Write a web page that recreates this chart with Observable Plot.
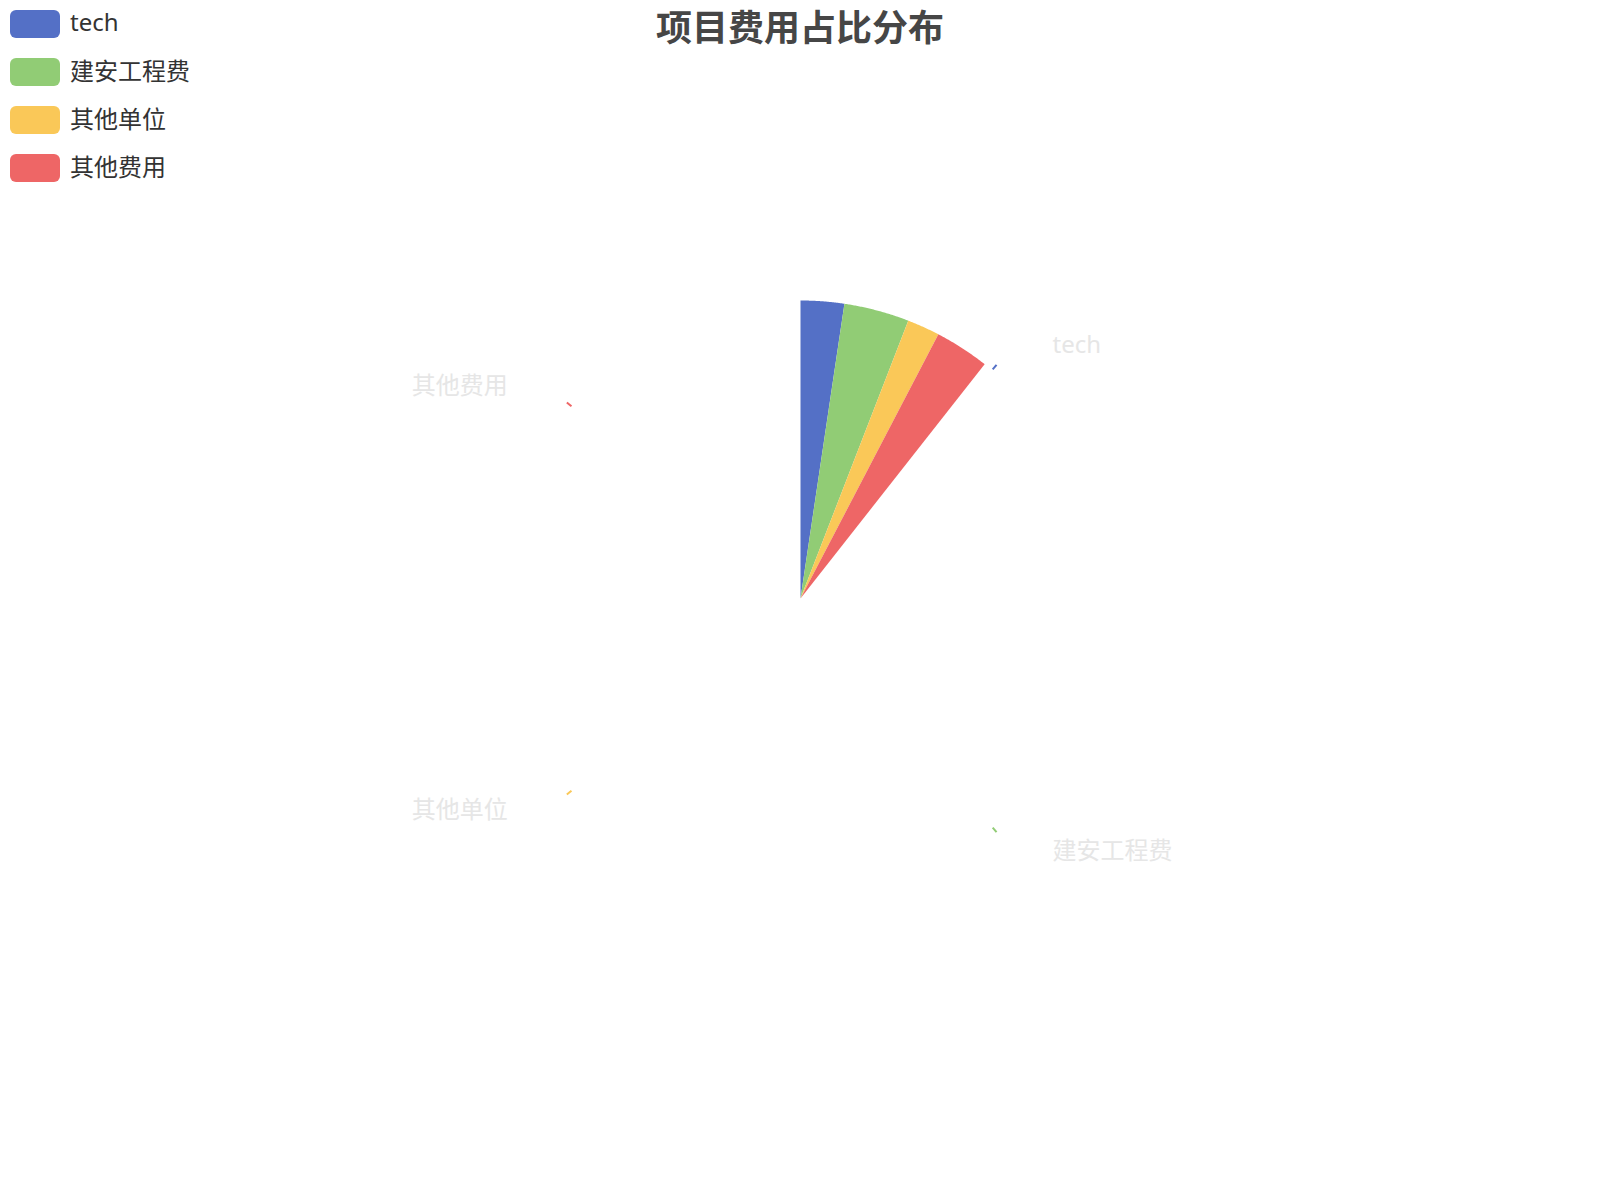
<!DOCTYPE html>
<html>
<head>
<meta charset="utf-8">
<script src="https://cdn.jsdelivr.net/npm/d3@7"></script>
<script src="https://cdn.jsdelivr.net/npm/@observablehq/plot@0.6"></script>
<style>
  html, body { margin: 0; padding: 0; background: #fff; }
  body { font-family: "Noto Sans", "Noto Sans CJK SC", sans-serif; }
  #wrap { position: relative; width: 1600px; height: 1200px; overflow: hidden; }
  #chart { position: absolute; left: 0; top: 0; }
  #title { position: absolute; left: 0; top: 5px; width: 1600px; text-align: center;
           font-size: 36px; font-weight: bold; color: #464646; line-height: 40px;
           font-family: "Noto Sans CJK SC", "Noto Sans", sans-serif; }
  #legend { position: absolute; left: 10px; top: 10px; }
  .item { display: flex; align-items: center; height: 28px; margin-bottom: 20px; }
  .swatch { width: 50px; height: 28px; border-radius: 6px; margin-right: 10px; }
  .lab { font-size: 24px; color: #333; position: relative; top: -3px;
         font-family: "Noto Sans", "Noto Sans CJK SC", sans-serif; }
</style>
</head>
<body>
<div id="wrap">
  <div id="chart"></div>
  <div id="title"></div>
  <div id="legend"></div>
</div>
<script>
// ---- data ----
const categories = ["tech", "建安工程费", "其他单位", "其他费用"];
const values = [4, 6, 3, 5];
const colors = ["#5470c6", "#91cc75", "#fac858", "#ee6666"];
const titleText = "项目费用占比分布";
// fraction of the pie sweep visible in the captured frame
const sweepProgress = 0.106;

// ---- layout ----
const W = 1600, H = 1200;
const CX = 800, CY = 598, R = 298;
const LABEL_R = 330, LABEL_DX = 40;

const total = d3.sum(values);
const cum = d3.cumsum(values);
const slices = categories.map((name, i) => {
  const c0 = (cum[i] - values[i]) / total;
  const c1 = cum[i] / total;
  return {name, value: values[i], start: c0 * 2 * Math.PI, end: c1 * 2 * Math.PI};
});

// wedge outlines (visible portion)
const wedgePts = [];
for (const s of slices) {
  const a0 = s.start * sweepProgress, a1 = s.end * sweepProgress;
  wedgePts.push({name: s.name, x: CX, y: CY});
  const n = 60;
  for (let k = 0; k <= n; k++) {
    const a = a0 + (a1 - a0) * k / n;
    wedgePts.push({name: s.name, x: CX + R * Math.sin(a), y: CY - R * Math.cos(a)});
  }
  wedgePts.push({name: s.name, x: CX, y: CY});
}

// label lines & labels (laid out at the final mid angle)
const labels = slices.map(s => {
  const mid = (s.start + s.end) / 2;
  const sx = Math.sin(mid), cy = Math.cos(mid);
  const right = sx >= 0;
  return {
    name: s.name, right,
    x1: CX + (R + 1) * sx, y1: CY - (R + 1) * cy,
    x2: CX + (R + 7) * sx, y2: CY - (R + 7) * cy,
    tx: CX + LABEL_R * sx + (right ? LABEL_DX : -LABEL_DX),
    ty: CY - LABEL_R * cy
  };
});

const plot = Plot.plot({
  width: W, height: H, margin: 0,
  x: {domain: [0, W], range: [0, W], axis: null},
  y: {domain: [0, H], range: [0, H], axis: null},
  color: {domain: categories, range: colors},
  style: {fontFamily: "'Noto Sans', 'Noto Sans CJK SC', sans-serif", background: "transparent"},
  marks: [
    Plot.line(wedgePts, {x: "x", y: "y", z: "name", fill: "name", stroke: "none", curve: "linear"}),
    Plot.link(labels, {x1: "x1", y1: "y1", x2: "x2", y2: "y2", stroke: "name", strokeWidth: 2}),
    Plot.text(labels.filter(d => d.right), {x: "tx", y: "ty", text: "name", textAnchor: "start", fill: "#e6e6e6", fontSize: 24}),
    Plot.text(labels.filter(d => !d.right), {x: "tx", y: "ty", text: "name", textAnchor: "end", fill: "#e6e6e6", fontSize: 24})
  ]
});
document.getElementById("chart").appendChild(plot);

document.getElementById("title").textContent = titleText;
const legend = document.getElementById("legend");
categories.forEach((name, i) => {
  const item = document.createElement("div");
  item.className = "item";
  const sw = document.createElement("div");
  sw.className = "swatch";
  sw.style.background = colors[i];
  const lab = document.createElement("span");
  lab.className = "lab";
  lab.textContent = name;
  item.appendChild(sw);
  item.appendChild(lab);
  legend.appendChild(item);
});
</script>
</body>
</html>
